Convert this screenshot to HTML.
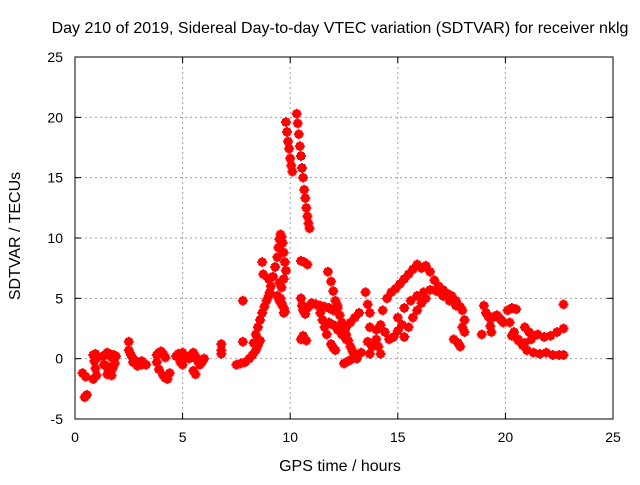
<!DOCTYPE html>
<html><head><meta charset="utf-8"><style>
body{margin:0;background:#fff}
svg{font-family:"Liberation Sans",sans-serif}
</style></head><body>
<svg id="chart" width="640" height="480" viewBox="0 0 640 480">
<text x="340" y="33" font-size="16" text-anchor="middle">Day 210 of 2019, Sidereal Day-to-day VTEC variation (SDTVAR) for receiver nklg</text>
<text x="340" y="471" font-size="16" text-anchor="middle">GPS time / hours</text>
<text x="0" y="0" font-size="16" text-anchor="middle" transform="translate(20,236) rotate(-90)">SDTVAR / TECUs</text>
<g id="grid"></g>
<g id="marks"></g>
<rect x="75" y="57" width="538" height="362" fill="none" stroke="#000" stroke-width="1"/>
<g id="ticks"></g>
</svg>
<script>
const xTicks=[0,5,10,15,20,25];
const yTicks=[-5,0,5,10,15,20,25];
const earlyHours=[0.45,0.55,0.35,0.5,0.85,0.9,0.95,1.0,0.85,1.05,0.95,1.3,1.4,1.5,1.6,1.7,1.8,1.9,1.35,1.45,1.55,1.65,1.75,1.85,1.5,1.7,2.5,2.5,2.6,2.7,2.8,2.9,3.0,3.1,3.2,3.3,2.7,2.9,3.1,3.8,3.9,4.0,4.1,4.2,3.8,3.9,4.1,4.2,4.3,4.4,4.7,4.8,4.9,5.0,5.1,4.9,5.0,5.3,5.4,5.5,5.6,5.7,5.8,5.9,6.0,5.5,5.6,6.8,6.8,6.8];
const earlyVals=[-3.2,-3.0,-1.2,-1.5,0.3,-0.2,-0.8,-1.4,-1.7,0.1,0.4,0.2,0.3,0.5,0.4,0.1,0.3,0.2,-0.5,-0.6,-0.9,-1.1,-0.8,-0.4,-1.3,-1.4,1.4,0.7,0.3,0.0,-0.2,-0.3,-0.4,-0.5,-0.4,-0.5,-0.3,-0.6,-0.2,0.3,0.5,0.6,0.4,0.1,-0.3,-0.9,-1.4,-1.6,-1.7,-1.2,0.2,0.4,0.3,0.5,0.0,-0.3,-0.5,0.0,0.3,0.5,0.2,-0.2,-0.5,-0.3,0.0,-1.0,-1.3,1.2,0.7,0.4];
const midHours=[7.5,7.7,7.9,8.1,8.25,8.4,8.5,8.6,7.8,7.8,8.3,8.4,8.5,8.6,8.7,8.8,8.9,9.0,9.05,8.7,8.75,9.0,9.1,9.2,9.3,9.4,9.45,9.5,9.55,9.6,9.65,9.7,9.75,9.8,9.5,9.6,9.7,9.55,9.6,9.7,9.75,9.4,9.5,9.6,9.7];
const midVals=[-0.5,-0.4,-0.3,0.0,0.3,0.7,1.1,1.5,4.8,1.4,1.3,2.0,2.6,3.2,3.8,4.3,4.8,5.2,5.5,8.0,7.0,6.6,6.0,6.8,7.6,8.4,9.2,9.9,10.3,10.1,9.6,8.8,8.0,7.3,6.3,5.9,6.6,5.0,4.6,4.2,3.9,5.2,4.8,4.5,3.8];
const peakHours=[9.8,9.85,9.9,9.95,10.0,10.05,10.1,10.3,10.35,10.4,10.45,10.5,10.55,10.6,10.65,10.7,10.75,10.8,10.85,10.9];
const peakVals=[19.6,18.8,18.0,17.4,16.6,16.0,15.5,20.3,19.5,18.6,17.6,16.8,15.8,15.0,14.0,13.3,12.5,11.8,11.2,10.8];
const noonHours=[10.5,10.65,10.8,10.5,10.55,10.6,10.7,10.8,10.9,10.5,10.6,10.75,11.0,11.2,11.4,11.6,11.8,12.0,12.2,11.3,11.4,11.5,11.6,11.7,11.75,11.9,12.0,12.1,12.2,12.3,12.4,12.5,12.6,12.7,12.8,12.9,13.0,13.1,11.8,12.0,12.2,12.4,12.6,11.9,12.0,12.1,12.5,12.7,12.9,13.1,13.3,12.4,12.6,12.8,13.0,13.2,13.5,13.6,13.7,13.7,13.6,13.8,13.7,14.0,14.1,14.2];
const noonVals=[8.1,8.0,7.8,5.0,4.4,4.0,3.7,4.2,4.4,1.6,1.9,1.5,4.6,4.5,4.4,4.3,4.2,4.0,4.4,4.4,3.8,3.2,2.6,2.0,7.2,6.4,5.6,4.8,4.2,3.6,3.0,2.5,2.0,1.5,1.0,0.6,0.2,0.0,3.0,2.8,2.4,2.0,1.6,1.2,0.9,0.7,-0.4,-0.2,0.0,0.3,0.5,2.0,2.6,3.0,3.4,3.8,5.5,4.5,3.8,2.6,1.4,1.0,0.4,1.6,1.0,0.4];
const pmHours=[14.0,14.2,14.4,14.6,14.8,15.0,15.2,14.3,14.5,14.7,14.9,15.1,15.3,15.5,15.7,15.9,15.0,15.3,15.6,15.9,16.2,16.5,16.8,17.1,17.4,17.7,18.0,18.1,15.3,15.5,15.7,15.9,16.1,16.3,16.1,16.3,16.5,16.7,16.9,17.1,17.3,17.5,17.7,17.9,17.6,17.8,17.9,18.0,18.1];
const pmVals=[2.4,2.8,2.2,1.6,1.8,2.3,2.8,4.0,5.0,5.5,5.8,6.2,6.6,7.0,7.4,7.8,3.4,4.2,4.8,5.2,5.5,5.7,5.6,5.2,4.8,4.4,4.0,3.2,1.8,2.6,3.4,4.0,4.6,5.0,7.5,7.7,7.2,6.5,6.0,5.7,5.4,5.2,4.8,4.3,1.6,1.3,1.0,2.6,2.2];
const lateHours=[19.0,19.1,19.2,19.3,19.4,19.5,19.6,19.7,19.8,19.9,19.3,19.35,18.9,20.1,20.3,20.5,20.2,20.4,20.6,20.8,21.0,21.3,21.6,21.9,22.2,22.5,22.7,20.3,20.6,20.9,21.2,21.5,21.8,22.1,22.4,22.7,20.9,21.1,21.3,22.7];
const lateVals=[4.4,3.8,3.5,3.3,3.4,3.5,3.6,3.4,3.2,3.0,2.7,2.2,2.0,4.0,4.2,4.1,3.0,2.2,1.5,1.1,0.7,0.5,0.4,0.5,0.3,0.3,0.3,1.9,1.6,1.3,1.6,2.0,1.8,1.9,2.2,2.5,2.6,2.2,1.9,4.5];
const X0=75,X1=613,Y0=419,Y1=57;
const xs=h=>X0+(h/25)*(X1-X0);
const ys=v=>Y0-((v+5)/30)*(Y0-Y1);
const NS="http://www.w3.org/2000/svg";
const grid=document.getElementById('grid'),ticks=document.getElementById('ticks'),marks=document.getElementById('marks');
function mk(tag,attrs,parent){const e=document.createElementNS(NS,tag);for(const k in attrs)e.setAttribute(k,attrs[k]);parent.appendChild(e);return e;}
xTicks.forEach(t=>{const x=xs(t);
 if(t>0&&t<25){const g=mk('line',{x1:x,y1:Y0,x2:x,y2:Y1,stroke:'#a0a0a0','stroke-dasharray':'2,3'},grid);
 
 }
 mk('line',{x1:x,y1:Y0,x2:x,y2:Y0-6,stroke:'#000'},ticks);
 mk('line',{x1:x,y1:Y1,x2:x,y2:Y1+6,stroke:'#000'},ticks);
 const l=mk('text',{x:x,y:Y0+23,'font-size':14,'text-anchor':'middle'},ticks);l.textContent=t;
 
 
});
yTicks.forEach(t=>{const y=ys(t);
 if(t>-5&&t<25){const g=mk('line',{x1:X0,y1:y,x2:X1,y2:y,stroke:'#a0a0a0','stroke-dasharray':'2,3'},grid);
 
 }
 mk('line',{x1:X0,y1:y,x2:X0+6,y2:y,stroke:'#000'},ticks);
 mk('line',{x1:X1,y1:y,x2:X1-6,y2:y,stroke:'#000'},ticks);
 const l=mk('text',{x:X0-12,y:y+5,'font-size':14,'text-anchor':'end'},ticks);l.textContent=t;
 
 
});
function plot(hs,vs){
 for(let i=0;i<hs.length;i++){
  const x=xs(hs[i]),y=ys(vs[i]);
  const p=mk('path',{d:`M${x-5},${y}H${x+5}M${x},${y-5}V${y+5}M${x-4},${y-2}H${x+4}M${x-4},${y+2}H${x+4}M${x-2},${y-4}V${y+4}M${x+2},${y-4}V${y+4}`,stroke:'#ff0000','stroke-width':2,fill:'none'},marks);
  
  
 }
}
plot(earlyHours,earlyVals);
plot(midHours,midVals);
plot(peakHours,peakVals);
plot(noonHours,noonVals);
plot(pmHours,pmVals);
plot(lateHours,lateVals);
</script>
</body></html>
